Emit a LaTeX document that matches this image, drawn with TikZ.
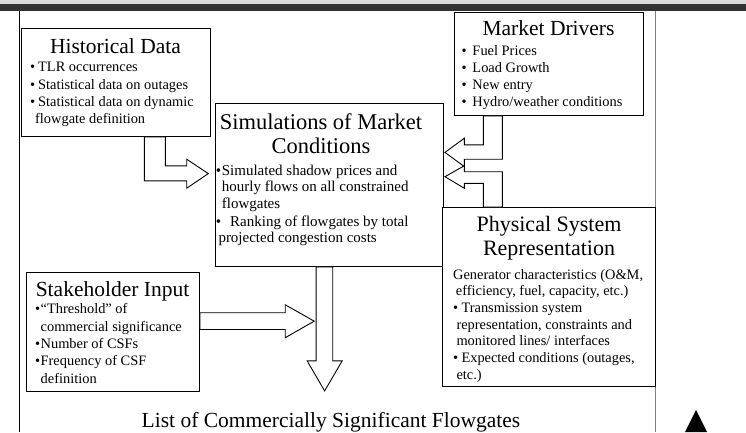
\documentclass[tikz,border=0pt]{standalone}
\usepackage{fontspec}
\setmainfont{Liberation Serif}
\usepackage{tikz}
\usetikzlibrary{calc}
\definecolor{barshade}{HTML}{333333}
\definecolor{barlight}{HTML}{DADADA}
\definecolor{rulegray}{HTML}{808080}
\tikzset{
  panel/.style={draw, line width=0.9pt, fill=white, inner sep=0pt, anchor=north west},
  ttl/.style={font=\fontsize{21.5}{24.5}\selectfont, inner sep=0pt, anchor=base},
  pts/.style={font=\fontsize{14.4}{17.3}\selectfont, inner sep=0pt, anchor=base west},
  blk/.style={draw, line width=0.9pt, fill=white, line join=miter},
}
\newcommand{\blt}[1][8pt]{\makebox[#1][l]{\textbullet}}
\newcommand{\boxlines}[1]{\parbox[t]{230pt}{\raggedright #1}}

\begin{document}
\begin{tikzpicture}[x=1pt, y=-1pt]
\useasboundingbox (0,0) rectangle (746,432);
\fill[barlight] (0,0) rectangle (746,4);
\fill[barshade] (0,4) rectangle (746,11);
\draw[line width=0.9pt] (19.5,11) -- (19.5,432);
\draw[rulegray, line width=1.4pt] (655.5,11) -- (655.5,432);
\fill (685,432) -- (696,410) -- (707,432) -- cycle;

\node[panel, minimum width=189pt, minimum height=108pt] (hist) at (21,28) {};
\node[panel, minimum width=189pt, minimum height=103pt] (mkt) at (454,12) {};
\node[panel, minimum width=228pt, minimum height=163pt] (sim) at (215,103) {};
\node[panel, minimum width=213pt, minimum height=179pt] (phys) at (442,207) {};
\node[panel, minimum width=173pt, minimum height=119pt] (stake) at (26,272) {};

\node[ttl] (histT) at (115.5,53) {Historical Data};
\node[pts] (histL) at (30,71.7) {\boxlines{\blt TLR occurrences\\ \blt Statistical data on outages\\ \blt Statistical data on dynamic\\ \hspace*{5pt}flowgate definition}};

\node[ttl] (mktT) at (548.5,35) {Market Drivers};
\node[pts] (mktL) at (461.3,55) {\boxlines{\blt[11pt]Fuel Prices\\ \blt[11pt]Load Growth\\ \blt[11pt]New entry\\ \blt[11pt]Hydro/weather conditions}};

\node[ttl, font=\fontsize{22.5}{24}\selectfont] (simT) at (321,129) {\parbox[t]{230pt}{\centering Simulations of Market\\Conditions}};
\node[pts, font=\fontsize{15}{16.7}\selectfont] (simL) at (215.7,175) {\boxlines{\blt[6pt]Simulated shadow prices and\\ \hspace*{6pt}hourly flows on all constrained\\ \hspace*{6pt}flowgates\\[1pt] \blt[14.3pt]Ranking of flowgates by total\\ \hspace*{2.6pt}projected congestion costs}};

\node[ttl, font=\fontsize{22}{24.5}\selectfont] (physT) at (549,231) {\parbox[t]{210pt}{\centering Physical System\\Representation}};
\node[pts, font=\fontsize{14.4}{16.7}\selectfont] (physL) at (453,279) {\boxlines{Generator characteristics (O\&M,\\ \hspace*{2.7pt}efficiency, fuel, capacity, etc.)\\ \blt[8.3pt]Transmission system\\ \hspace*{3.3pt}representation, constraints and\\ \hspace*{3.3pt}monitored lines/ interfaces\\ \blt[8.3pt]Expected conditions (outages,\\ \hspace*{3.3pt}etc.)}};

\node[ttl] (stakeT) at (112.5,296) {Stakeholder Input};
\node[pts, font=\fontsize{14.4}{17.4}\selectfont] (stakeL) at (35,313.7) {\boxlines{\blt[5.5pt]“Threshold” of\\ \hspace*{5.5pt}commercial significance\\ \blt[5.5pt]Number of CSFs\\ \blt[5.5pt]Frequency of CSF\\ \hspace*{5.5pt}definition}};

\node[ttl] (csf) at (331,427) {List of Commercially Significant Flowgates};

\draw[blk] ($(hist.south west)+(123.3,0)$) -- ++(0,44) -- ++(42.4,0) -- ++(0,7.3) -- ++(21.6,-14.6) -- ++(-21.6,-14.4) -- ++(0,6.7) -- ++(-21.4,0) -- ++(0,-29) -- cycle;
\draw[blk] ($(mkt.south west)+(29.3,0)$) -- ++(0,29) -- ++(-19,0) -- ++(0,-6.7) -- ++(-19.3,14.2) -- ++(19.3,14.2) -- ++(0,-7.4) -- ++(38,0) -- ++(0,-43.3) -- cycle;
\draw[blk] ($(phys.north west)+(41.3,0)$) -- ++(0,-23.7) -- ++(-19,0) -- ++(0,5) -- ++(-19.3,-11.6) -- ++(19.3,-11) -- ++(0,6) -- ++(38,0) -- ++(0,35.3) -- cycle;
\draw[blk] ($(stake.east)+(0,-19.2)$) -- ++(85.3,0) -- ++(0,-8) -- ++(29,16.4) -- ++(-29,16.6) -- ++(0,-8.3) -- ++(-85.3,0) -- cycle;
\draw[blk] ($(sim.south)+(-13.3,0)$) -- ++(0,94) -- ++(-9,0) -- ++(17.5,30) -- ++(17.5,-30) -- ++(-9.4,0) -- ++(0,-94) -- cycle;
\end{tikzpicture}
\end{document}
